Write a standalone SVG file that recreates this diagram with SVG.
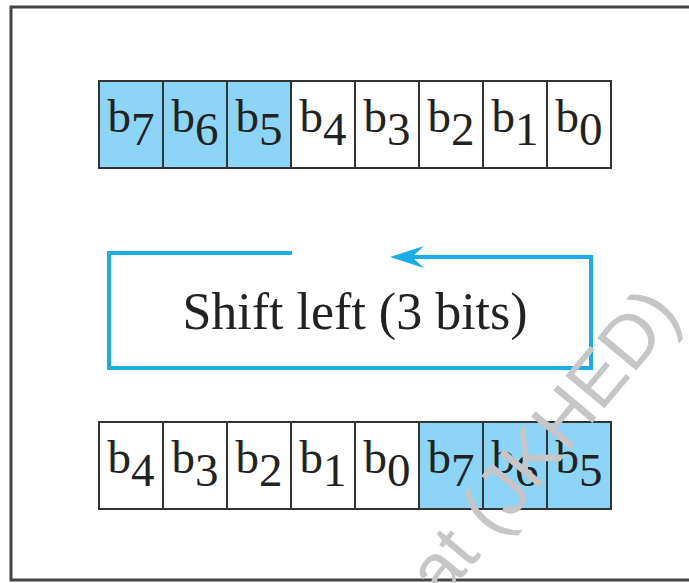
<svg xmlns="http://www.w3.org/2000/svg" width="689" height="583" viewBox="0 0 689 583">
<style>
.cell{stroke:#333;stroke-width:2;fill:#fff}
.hi{fill:#8dd5f6}
.bit{font-family:"Liberation Serif","Times New Roman",serif;font-size:47px;fill:#222;text-anchor:middle}
.lbl{font-family:"Liberation Serif","Times New Roman",serif;font-size:52px;fill:#222;text-anchor:middle}
.loop{fill:none;stroke:#1aaee8;stroke-width:4}
.wm{font-family:"Liberation Sans",Arial,sans-serif;font-size:74px;fill:#c6c6c6}
</style>
<rect width="689" height="583" fill="#fff"/>
<rect x="11" y="7" width="700" height="573" fill="none" stroke="#444" stroke-width="3"/>
<g id="top-register">
<rect class="cell hi" x="99" y="81" width="64" height="87"/>
<rect class="cell hi" x="163" y="81" width="64" height="87"/>
<rect class="cell hi" x="227" y="81" width="64" height="87"/>
<rect class="cell" x="291" y="81" width="64" height="87"/>
<rect class="cell" x="355" y="81" width="64" height="87"/>
<rect class="cell" x="419" y="81" width="64" height="87"/>
<rect class="cell" x="483" y="81" width="64" height="87"/>
<rect class="cell" x="547" y="81" width="64" height="87"/>
<text class="bit" x="131" y="132">b<tspan dy="13">7</tspan></text>
<text class="bit" x="195" y="132">b<tspan dy="13">6</tspan></text>
<text class="bit" x="259" y="132">b<tspan dy="13">5</tspan></text>
<text class="bit" x="323" y="132">b<tspan dy="13">4</tspan></text>
<text class="bit" x="387" y="132">b<tspan dy="13">3</tspan></text>
<text class="bit" x="451" y="132">b<tspan dy="13">2</tspan></text>
<text class="bit" x="515" y="132">b<tspan dy="13">1</tspan></text>
<text class="bit" x="579" y="132">b<tspan dy="13">0</tspan></text>
</g>
<g id="shift-op">
<text class="lbl" x="355" y="329">Shift left (3 bits)</text>
</g>
<g id="connectors">
<path class="loop" d="M292 253 H109 V368 H591 V257 H405"/>
<path d="M390 257 L424 246 L412 257 L424 268 Z" fill="#1aaee8"/>
</g>
<g id="bottom-register">
<rect class="cell" x="99" y="422" width="64" height="87"/>
<rect class="cell" x="163" y="422" width="64" height="87"/>
<rect class="cell" x="227" y="422" width="64" height="87"/>
<rect class="cell" x="291" y="422" width="64" height="87"/>
<rect class="cell" x="355" y="422" width="64" height="87"/>
<rect class="cell hi" x="419" y="422" width="64" height="87"/>
<rect class="cell hi" x="483" y="422" width="64" height="87"/>
<rect class="cell hi" x="547" y="422" width="64" height="87"/>
<text class="bit" x="131" y="473">b<tspan dy="13">4</tspan></text>
<text class="bit" x="195" y="473">b<tspan dy="13">3</tspan></text>
<text class="bit" x="259" y="473">b<tspan dy="13">2</tspan></text>
<text class="bit" x="323" y="473">b<tspan dy="13">1</tspan></text>
<text class="bit" x="387" y="473">b<tspan dy="13">0</tspan></text>
<text class="bit" x="451" y="473">b<tspan dy="13">7</tspan></text>
<text class="bit" x="515" y="473">b<tspan dy="13">6</tspan></text>
<text class="bit" x="579" y="473">b<tspan dy="13">5</tspan></text>
</g>
<text class="wm" transform="translate(442,602) rotate(-50)">at (JKHED)</text>
</svg>
